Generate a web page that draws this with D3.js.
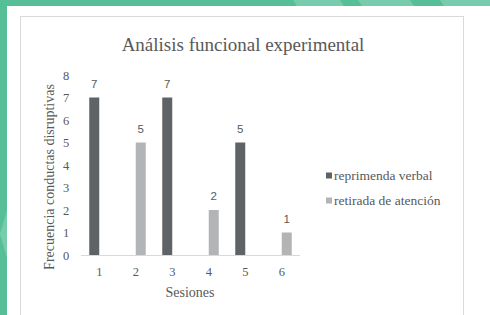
<!DOCTYPE html>
<html>
<head>
<meta charset="utf-8">
<script src="https://cdn.jsdelivr.net/npm/d3@7"></script>
<style>
  body { margin: 0; background: #fff; }
  svg { display: block; }
</style>
</head>
<body>
<svg id="chart" width="490" height="315"></svg>
<script>
// chart data
const sesiones = ['1', '2', '3', '4', '5', '6'];
const reprimenda = [7, 0, 7, 0, 5, 0];
const retirada = [0, 5, 0, 2, 0, 1];
const seriesNames = ['reprimenda verbal', 'retirada de atención'];
const yTicks = [0, 1, 2, 3, 4, 5, 6, 7, 8];

const serif = '"Liberation Serif", "Times New Roman", serif';
const sans = '"Liberation Sans", Arial, sans-serif';
const colors = ['#606365', '#b3b4b5'];

const svg = d3.select('#chart');

// page decoration: green band top and left
svg.append('rect').attr('x', 0).attr('y', 0).attr('width', 490).attr('height', 6).attr('fill', '#56bf98');
svg.append('rect').attr('x', 0).attr('y', 0).attr('width', 7).attr('height', 315).attr('fill', '#56bf98');
[[293, 340], [358, 410], [440, 492]].forEach(function(s) {
   svg.append('path')
      .attr('d', `M${s[0]},0 L${s[1]},0 L${s[1] + 4},6 L${s[0] + 4},6 Z`)
      .attr('fill', '#79cbae');
});
svg.append('path').attr('d', 'M7,210 L7,258 L0,234 Z').attr('fill', '#79cbae');

// chart frame
svg.append('rect')
   .attr('x', 20.5).attr('y', 16.5)
   .attr('width', 443).attr('height', 310)
   .attr('fill', '#fff')
   .attr('stroke', '#d9d9d9');

svg.append('text')
   .text('Análisis funcional experimental')
   .attr('x', 243).attr('y', 51)
   .attr('text-anchor', 'middle')
   .style('font-family', serif)
   .style('font-size', '19px')
   .style('fill', '#595959');

const x = d3.scaleBand().domain(sesiones).range([81, 300]).paddingInner(0).paddingOuter(0);
const y = d3.scaleLinear().domain([0, 8]).range([255, 75]);
const barW = 10;

// axis line
svg.append('line')
   .attr('x1', x.range()[0]).attr('x2', x.range()[1])
   .attr('y1', y(0) + 0.5).attr('y2', y(0) + 0.5)
   .attr('stroke', '#d9d9d9');

const yAxis = svg.append('g')
   .attr('transform', `translate(${72},0)`)
   .call(d3.axisLeft(y).tickValues(yTicks).tickSize(0).tickPadding(0));
yAxis.select('.domain').remove();
yAxis.selectAll('text')
   .attr('text-anchor', 'middle').attr('x', -6)
   .style('font-family', serif).style('font-size', '12.5px').style('fill', '#595959');

const xAxis = svg.append('g')
   .attr('transform', `translate(0,${y(0)})`)
   .call(d3.axisBottom(x).tickSize(0).tickPadding(12));
xAxis.select('.domain').remove();
xAxis.selectAll('text')
   .style('font-family', serif).style('font-size', '12.5px').style('fill', '#595959');

const series = [reprimenda, retirada];
series.forEach(function(vals, si) {
   const g = svg.append('g');
   const items = sesiones.map((s, i) => ({s: s, v: vals[i]})).filter(d => d.v > 0);
   g.selectAll('rect')
      .data(items)
      .enter()
      .append('rect')
         .attr('x', d => x(d.s) + x.bandwidth() / 2 - barW + si * barW)
         .attr('y', d => y(d.v))
         .attr('width', barW)
         .attr('height', d => y(0) - y(d.v))
         .attr('fill', colors[si]);
   g.selectAll('text')
      .data(items)
      .enter()
      .append('text')
         .text(d => d.v)
         .attr('x', d => x(d.s) + x.bandwidth() / 2 - barW / 2 + si * barW)
         .attr('y', d => y(d.v) - 10)
         .attr('text-anchor', 'middle')
         .style('font-family', sans)
         .style('font-size', '11.5px')
         .style('fill', '#595959');
});

svg.append('text')
   .text('Frecuencia conductas disruptivas')
   .attr('transform', 'translate(54,177) rotate(-90)')
   .attr('text-anchor', 'middle')
   .style('font-family', serif)
   .style('font-size', '14px')
   .style('fill', '#595959');

svg.append('text')
   .text('Sesiones')
   .attr('x', 190).attr('y', 297)
   .attr('text-anchor', 'middle')
   .style('font-family', serif)
   .style('font-size', '14px')
   .style('fill', '#595959');

// legend
const legend = svg.append('g');
seriesNames.forEach(function(name, i) {
   const ly = 176 + i * 25;
   legend.append('rect')
      .attr('x', 326).attr('y', ly - 3.5)
      .attr('width', 6).attr('height', 6)
      .attr('fill', colors[i]);
   legend.append('text')
      .text(name)
      .attr('x', 334).attr('y', ly + 4)
      .style('font-family', serif)
      .style('font-size', '13.5px')
      .style('fill', '#595959');
});
</script>
</body>
</html>
